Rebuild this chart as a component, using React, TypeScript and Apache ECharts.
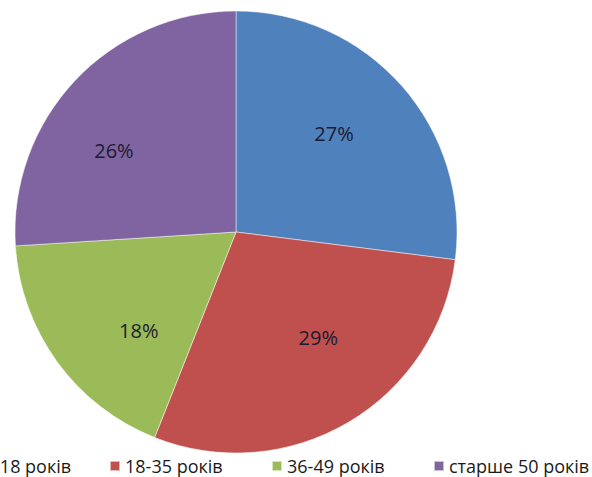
import React, { useEffect, useRef } from "react";
import * as echarts from "echarts";

const categories = ["до 18 років", "18-35 років", "36-49 років", "старше 50 років"];
const values = [27, 29, 18, 26];
const colors = ["#4F81BD", "#C0504D", "#9BBB59", "#8064A2"];
const legendLefts = [-42, 109, 271, 433];
const labelNudges = [
  [-7, -6],
  [11, -15],
  [16, 16],
  [-20, 14],
];

export default function App() {
  const ref = useRef<HTMLDivElement>(null);
  useEffect(() => {
    const chart = echarts.init(ref.current!, undefined, { renderer: "svg" });
    const data = categories.map((name, i) => ({ name, value: values[i], itemStyle: { color: colors[i] } }));
    const font = "'Open Sans', sans-serif";
    chart.setOption({
      animation: false,
      legend: categories.map((name, i) => ({
        data: [name],
        left: legendLefts[i],
        top: 457,
        padding: 0,
        itemWidth: 10,
        itemHeight: 10,
        icon: "rect",
        selectedMode: false,
        textStyle: { fontFamily: font, fontSize: 18, color: "#1a1a1a" },
      })),
      series: [
        {
          type: "pie",
          center: [236, 232],
          radius: [0, 221],
          startAngle: 90,
          clockwise: true,
          silent: true,
          data,
          label: { show: false },
          labelLine: { show: false },
          itemStyle: { borderColor: "rgba(255,255,255,0.6)", borderWidth: 0.8 },
        },
        {
          type: "pie",
          center: [236, 232],
          radius: [0, 274],
          startAngle: 90,
          clockwise: true,
          silent: true,
          data: categories.map((name, i) => ({ name: name + " ", value: values[i] })),
          itemStyle: { color: "transparent" },
          label: {
            show: true,
            position: "inside",
            formatter: "{c}%",
            fontFamily: font,
            fontSize: 20,
            color: "#1b1b33",
          },
          labelLayout: (params: any) => ({
            dx: labelNudges[params.dataIndex][0],
            dy: labelNudges[params.dataIndex][1],
          }),
          labelLine: { show: false },
        },
      ],
    });
    return () => chart.dispose();
  }, []);
  return <div ref={ref} style={{ position: "fixed", left: 0, top: 0, width: 592, height: 477, background: "#fff" }} />;
}
